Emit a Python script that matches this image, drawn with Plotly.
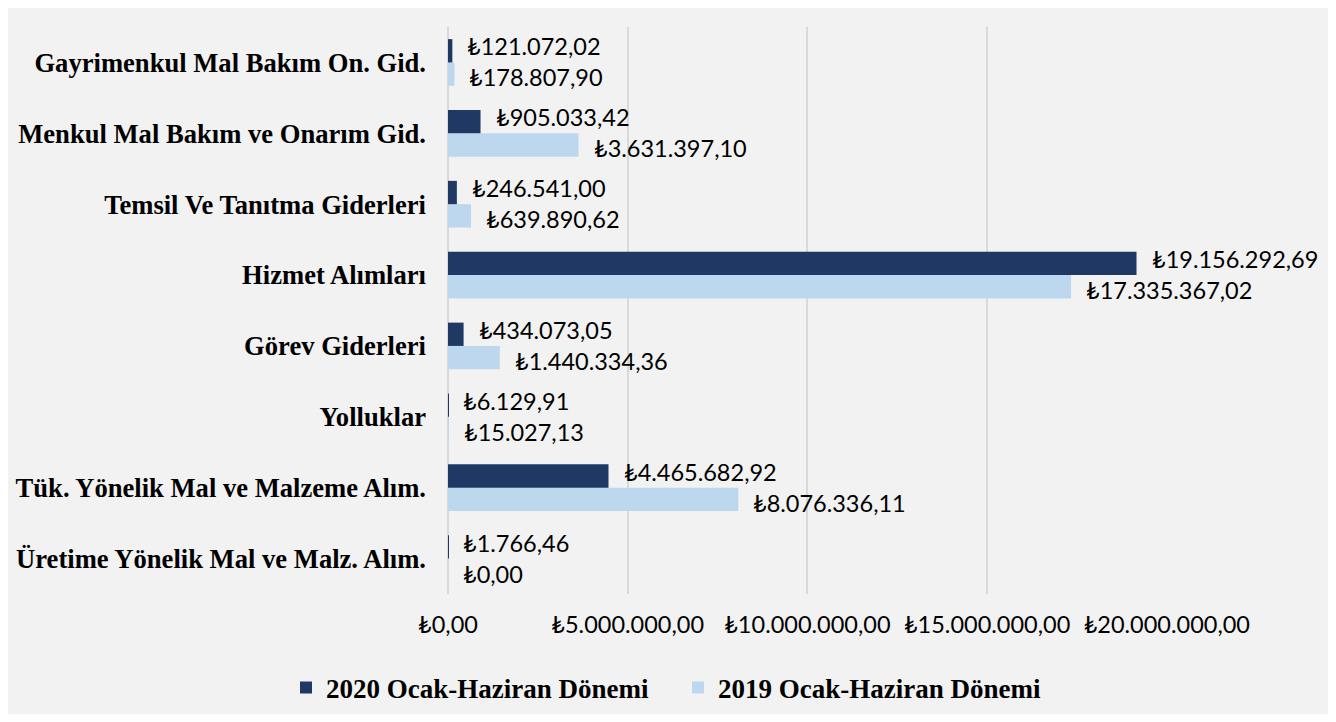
import plotly.graph_objects as go

categories = [
    "Üretime Yönelik Mal ve Malz. Alım.",
    "Tük. Yönelik Mal ve Malzeme Alım.",
    "Yolluklar",
    "Görev Giderleri",
    "Hizmet Alımları",
    "Temsil Ve Tanıtma Giderleri",
    "Menkul Mal Bakım ve Onarım Gid.",
    "Gayrimenkul Mal Bakım On. Gid.",
]
values_2020 = [1766.46, 4465682.92, 6129.91, 434073.05, 19156292.69, 246541.00, 905033.42, 121072.02]
values_2019 = [0.00, 8076336.11, 15027.13, 1440334.36, 17335367.02, 639890.62, 3631397.10, 178807.90]
series_names = ["2020 Ocak-Haziran Dönemi", "2019 Ocak-Haziran Dönemi"]
tick_values = [0, 5000000, 10000000, 15000000, 20000000]


def tl(v):
    s = f"{v:,.2f}"
    s = s.replace(",", "X").replace(".", ",").replace("X", ".")
    return "₺" + s


tick_text = [tl(v) for v in tick_values]

DARK = "#203864"
LIGHT = "#bdd7ee"
label_font = dict(family="Lato, 'Noto Sans', sans-serif", size=23.5, color="#000000")
serif = "'Liberation Serif', 'Times New Roman', serif"
legend_font = dict(family=serif, size=27, color="#000000", weight="bold")

W, H = 1321, 706

fig = go.Figure()
fig.add_trace(go.Bar(
    y=categories, x=values_2019, orientation="h", name=series_names[1],
    marker=dict(color=LIGHT, line=dict(width=0)), legend="legend2",
))
fig.add_trace(go.Bar(
    y=categories, x=values_2020, orientation="h", name=series_names[0],
    marker=dict(color=DARK, line=dict(width=0)), legend="legend",
))

annotations = []
for cat, v20, v19 in zip(categories, values_2020, values_2019):
    annotations.append(dict(x=v20, y=cat, xref="x", yref="y", text=tl(v20),
                            showarrow=False, xanchor="left", yanchor="middle",
                            xshift=13, yshift=16, font=label_font))
    annotations.append(dict(x=v19, y=cat, xref="x", yref="y", text=tl(v19),
                            showarrow=False, xanchor="left", yanchor="middle",
                            xshift=13, yshift=-15, font=label_font))

legend_common = dict(
    orientation="h", xref="container", yref="container",
    xanchor="left", yanchor="middle", y=1 - 680 / H,
    font=legend_font, bgcolor="rgba(0,0,0,0)",
)

fig.update_layout(
    width=W, height=H,
    margin=dict(l=440, r=162, t=19, b=120, pad=0, autoexpand=False),
    paper_bgcolor="#f2f2f2", plot_bgcolor="#f2f2f2",
    barmode="group", bargap=0.342, bargroupgap=0,
    showlegend=True,
    annotations=annotations,
    legend=dict(**legend_common, x=278 / W),
    legend2=dict(**legend_common, x=670 / W),
    xaxis=dict(
        range=[0, 20005000], tickvals=tick_values, ticktext=tick_text,
        showgrid=True, gridcolor="#d9d9d9", gridwidth=2,
        zeroline=True, zerolinecolor="#d9d9d9", zerolinewidth=2,
        showline=False, ticks="", ticklabelstandoff=14, automargin=False,
        tickfont=label_font, fixedrange=True,
    ),
    yaxis=dict(
        showgrid=False, zeroline=False, showline=False, ticks="",
        ticklabelstandoff=21, fixedrange=True, automargin=False,
        tickfont=dict(family=serif, size=26.6, color="#000000", weight="bold"),
    ),
)

fig.write_html("out.html")
